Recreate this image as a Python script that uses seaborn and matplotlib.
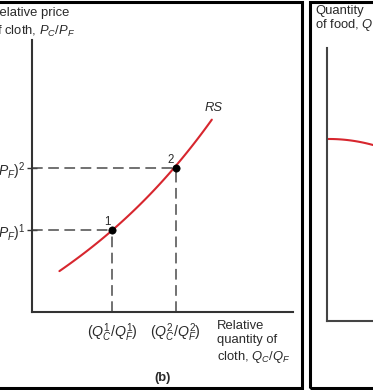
import matplotlib
matplotlib.use("Agg")
import matplotlib.pyplot as plt
import seaborn as sns
import pandas as pd
from matplotlib.patches import Rectangle

# ---- data ----
rs_x = [10.5, 15.8, 22.2, 30.8, 38.3, 46.5, 55.0, 60.5, 65.6, 68.9]
rs_y = [15.7, 17.9, 22.8, 30.1, 37.5, 45.1, 52.8, 59.6, 66.3, 71.2]
eq_x = [30.8, 55.0]
eq_y = [30.1, 52.8]
eq_labels = ["1", "2"]
ytick_labels = [r"$(P_C/P_F)^1$", r"$(P_C/P_F)^2$"]
xtick_labels = [r"$(Q_C^1/Q_F^1)$", r"$(Q_C^2/Q_F^2)$"]
ppf_x = [0, 20, 46]
ppf_y = [182, 181, 176]

sns.set_theme(style="white")
plt.rcParams["font.family"] = ["Liberation Sans", "DejaVu Sans"]
plt.rcParams["mathtext.fontset"] = "custom"
plt.rcParams["mathtext.rm"] = "Liberation Sans"
plt.rcParams["mathtext.it"] = "Liberation Sans:italic"
plt.rcParams["mathtext.bf"] = "Liberation Sans:bold"

W, H = 373, 390
fig = plt.figure(figsize=(W / 100, H / 100), dpi=100)

def fx(px):
    return px / W

def fy(py):
    return 1 - py / H

RED = "#d7262e"
AX = "#333333"
TXT = "#2a2a2a"
FS = 9.4

# ---- left panel (b) ----
ax = fig.add_axes([fx(32), fy(312), (293 - 32) / W, (312 - 40) / H])
ax.set_xlim(0, 100)
ax.set_ylim(0, 100)
for s in ["top", "right"]:
    ax.spines[s].set_visible(False)
for s in ["left", "bottom"]:
    ax.spines[s].set_color(AX)
    ax.spines[s].set_linewidth(1.5)

df = pd.DataFrame({"x": rs_x, "y": rs_y})
sns.regplot(data=df, x="x", y="y", order=3, ci=None, scatter=False, ax=ax,
            line_kws={"color": RED, "lw": 1.5})

dash = (0, (7, 3.6))
for x, y in zip(eq_x, eq_y):
    ax.plot([0, x], [y, y], color="#4a4a4a", lw=1.1, linestyle=dash)
    ax.plot([x, x], [0, y], color="#4a4a4a", lw=1.1, linestyle=dash)

eq_df = pd.DataFrame({"x": eq_x, "y": eq_y})
sns.scatterplot(data=eq_df, x="x", y="y", ax=ax, color="black", s=28,
                edgecolor="black", zorder=5)
for x, y, lab in zip(eq_x, eq_y, eq_labels):
    ax.annotate(lab, (x, y), xytext=(-3.8, 5.8), textcoords="offset points",
                ha="center", va="center", fontsize=8.3, color=TXT)

ax.text(69.7, 74.9, "RS", fontsize=FS, style="italic", ha="center",
        va="center", color=TXT)

ax.set_yticks(eq_y)
ax.set_yticklabels(ytick_labels, fontsize=10, color=TXT)
ax.set_xticks(eq_x)
ax.set_xticklabels(xtick_labels, fontsize=10.2, color=TXT)
ax.tick_params(axis="y", direction="inout", length=6.5, width=1,
               color=AX, pad=1.5, left=True)
ax.tick_params(axis="x", length=0, pad=7)
ax.set_xlabel("")
ax.set_ylabel("")

fig.text(fx(-10), fy(13), "Relative price", fontsize=FS, color=TXT,
         ha="left", va="center")
fig.text(fx(-10), fy(31), r"of cloth, $P_C/P_F$", fontsize=FS, color=TXT,
         ha="left", va="center")
fig.text(fx(217), fy(320), "Relative\nquantity of\ncloth, $Q_C/Q_F$",
         fontsize=FS, color=TXT, ha="left", va="top", linespacing=1.25)
fig.text(fx(163), fy(378), "(b)", fontsize=FS, fontweight="bold",
         color=TXT, ha="center", va="center")

# ---- right panel (cut off) ----
ax2 = fig.add_axes([fx(327), fy(321), (W - 327) / W, (321 - 48) / H])
ax2.set_xlim(0, 46)
ax2.set_ylim(0, 273)
for s in ["top", "right"]:
    ax2.spines[s].set_visible(False)
for s in ["left", "bottom"]:
    ax2.spines[s].set_color("#444444")
    ax2.spines[s].set_linewidth(1.5)
ax2.set_xticks([])
ax2.set_yticks([])
pdf = pd.DataFrame({"x": ppf_x, "y": ppf_y})
sns.regplot(data=pdf, x="x", y="y", order=2, ci=None, scatter=False, ax=ax2,
            line_kws={"color": RED, "lw": 1.5})
ax2.set_xlabel("")
ax2.set_ylabel("")

fig.text(fx(315), fy(11), "Quantity", fontsize=FS, color=TXT,
         ha="left", va="center")
fig.text(fx(315), fy(25), r"of food, $Q_F$", fontsize=FS, color=TXT,
         ha="left", va="center")

# ---- panel borders ----
lw = 2.2
fig.patches.append(Rectangle((fx(-10), fy(387.5)), fx(301.5 + 10), 386 / H,
                             transform=fig.transFigure, fill=False,
                             edgecolor="black", lw=lw))
fig.patches.append(Rectangle((fx(309.5), fy(387.5)), fx(100), 386 / H,
                             transform=fig.transFigure, fill=False,
                             edgecolor="black", lw=lw))

fig.savefig("out.png", dpi=100)
